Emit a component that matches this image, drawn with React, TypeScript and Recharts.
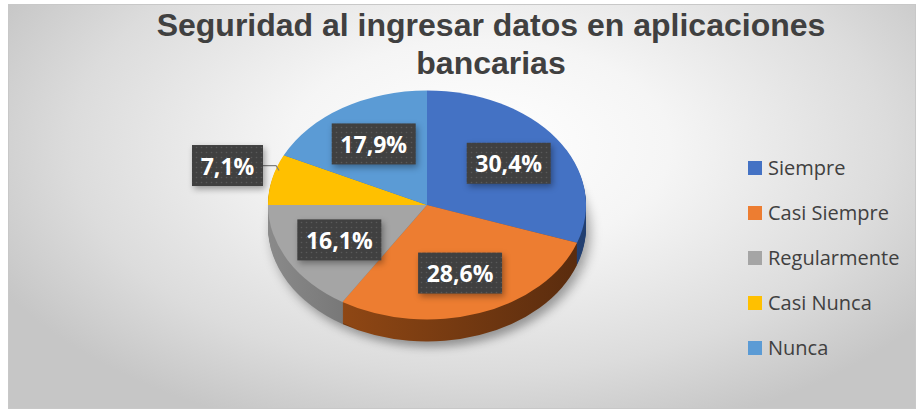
import { Cell, Legend, Pie, PieChart } from 'recharts';

const categories = ['Siempre', 'Casi Siempre', 'Regularmente', 'Casi Nunca', 'Nunca'];
const responses = [17, 16, 9, 4, 10];
const topColors = ['#4472c4', '#ed7d31', '#a5a5a5', '#ffc000', '#5b9bd5'];
const sideColors = ['url(#side-blue)', 'url(#side-orange)', 'url(#side-gray)', '#b08500', '#41719c'];

const chartData = categories.map((name, i) => ({ name, value: responses[i] }));

// 3D look: sectors are squashed vertically and stacked
const SQUASH = 0.72;
const CX = 418;
const CY = 200;
const RADIUS = 159;
const DEPTH = 22;
const RAD = Math.PI / 180;

const layers = Array.from({ length: DEPTH }, (_, i) => DEPTH - i);

interface LabelProps {
  cx: number;
  cy: number;
  midAngle: number;
  outerRadius: number;
  percent: number;
  index: number;
}

function PercentLabel({ cx, cy, midAngle, outerRadius, percent }: LabelProps) {
  const text = (percent * 100).toFixed(1).replace('.', ',') + '%';
  const w = text.length * 13 + 19;
  const h = 41;
  const cos = Math.cos(-midAngle * RAD);
  const sin = Math.sin(-midAngle * RAD);

  let bx: number;
  let by: number;
  let leader: string | null = null;

  if (percent < 0.1) {
    const ex = cx + outerRadius * cos;
    const ey = cy + outerRadius * sin * SQUASH;
    by = ey - 14;
    bx = ex - 9 - w / 2;
    leader = `M${ex - 9},${by} L${ex + 4},${by} L${ex + 7},${by + 5}`;
  } else {
    const r = outerRadius * 0.63;
    bx = cx + r * cos;
    by = cy + r * sin * SQUASH;
  }

  return (
    <g>
      {leader && <path d={leader} stroke="#7f7f7f" strokeWidth={1.2} fill="none" />}
      <rect
        x={bx - w / 2}
        y={by - h / 2}
        width={w}
        height={h}
        fill="url(#label-dots)"
        style={{ filter: 'drop-shadow(2px 3px 3px rgba(0,0,0,0.35))' }}
      />
      <text
        x={bx}
        y={by}
        textAnchor="middle"
        dominantBaseline="central"
        fill="#ffffff"
        fontFamily="'Open Sans', sans-serif"
        fontWeight="bold"
        fontSize={23}
      >
        {text}
      </text>
    </g>
  );
}

function LegendList() {
  return (
    <ul style={{ listStyle: 'none', margin: 0, padding: 0 }}>
      {categories.map((name, i) => (
        <li key={name} style={{ height: 45, display: 'flex', alignItems: 'center' }}>
          <span
            style={{
              width: 14,
              height: 14,
              backgroundColor: topColors[i],
              marginRight: 6,
              display: 'inline-block',
            }}
          />
          <span
            style={{
              fontFamily: "'Open Sans', sans-serif",
              fontSize: 20,
              color: '#404040',
            }}
          >
            {name}
          </span>
        </li>
      ))}
    </ul>
  );
}

export default function App() {
  return (
    <div
      className="chart3d"
      style={{
        position: 'absolute',
        left: 8,
        top: 4,
        width: 906,
        height: 403,
        border: '1px solid #c8c8c8',
        background:
          'radial-gradient(ellipse 60% 75% at 52% 35%, #ffffff 0%, #f5f5f5 35%, #dcdcdc 75%, #c6c6c6 100%)',
      }}
    >
      <style>{`
        .chart3d .recharts-sector {
          transform-origin: ${CX}px ${CY}px;
          transform: scaleY(${SQUASH});
        }
        .chart3d .pie-shadow .recharts-sector {
          filter: drop-shadow(4px 8px 6px rgba(0,0,0,0.35));
        }
      `}</style>
      <div
        style={{
          position: 'absolute',
          left: 82,
          top: 1,
          width: 800,
          textAlign: 'center',
          fontFamily: "'Liberation Sans', Arial, sans-serif",
          fontWeight: 'bold',
          fontSize: 32,
          lineHeight: '38px',
          color: '#404040',
        }}
      >
        Seguridad al ingresar datos en aplicaciones
        <br />
        bancarias
      </div>
      <PieChart width={906} height={403} margin={{ top: 0, right: 0, bottom: 0, left: 0 }}>
        <defs>
          <pattern id="label-dots" width={5} height={5} patternUnits="userSpaceOnUse">
            <rect width={5} height={5} fill="#404040" />
            <circle cx={2.5} cy={2.5} r={0.8} fill="#595959" />
          </pattern>
          <linearGradient id="side-blue" x1="0" y1="0" x2="1" y2="0">
            <stop offset="0%" stopColor="#30589a" />
            <stop offset="100%" stopColor="#223f70" />
          </linearGradient>
          <linearGradient id="side-orange" x1="0" y1="0" x2="1" y2="0">
            <stop offset="0%" stopColor="#8f4714" />
            <stop offset="100%" stopColor="#5a2c0e" />
          </linearGradient>
          <linearGradient id="side-gray" x1="0" y1="0" x2="1" y2="0">
            <stop offset="0%" stopColor="#8a8a8a" />
            <stop offset="100%" stopColor="#646464" />
          </linearGradient>
        </defs>
        {layers.map((k) => (
          <Pie
            key={k}
            data={chartData}
            dataKey="value"
            nameKey="name"
            cx={CX}
            cy={CY + k / SQUASH}
            outerRadius={RADIUS}
            startAngle={90}
            endAngle={-270}
            stroke="none"
            legendType="none"
            className={k === DEPTH ? 'pie-shadow' : undefined}
            isAnimationActive={false}
          >
            {chartData.map((entry, i) => (
              <Cell key={entry.name} fill={sideColors[i]} />
            ))}
          </Pie>
        ))}
        <Pie
          data={chartData}
          dataKey="value"
          nameKey="name"
          cx={CX}
          cy={CY}
          outerRadius={RADIUS}
          startAngle={90}
          endAngle={-270}
          stroke="none"
          label={PercentLabel}
          labelLine={false}
          isAnimationActive={false}
        >
          {chartData.map((entry, i) => (
            <Cell key={entry.name} fill={topColors[i]} />
          ))}
        </Pie>
        <Legend
          layout="vertical"
          align="right"
          verticalAlign="middle"
          content={() => <LegendList />}
          wrapperStyle={{ left: 739, top: 140, width: 170, right: 'auto' }}
        />
      </PieChart>
    </div>
  );
}
